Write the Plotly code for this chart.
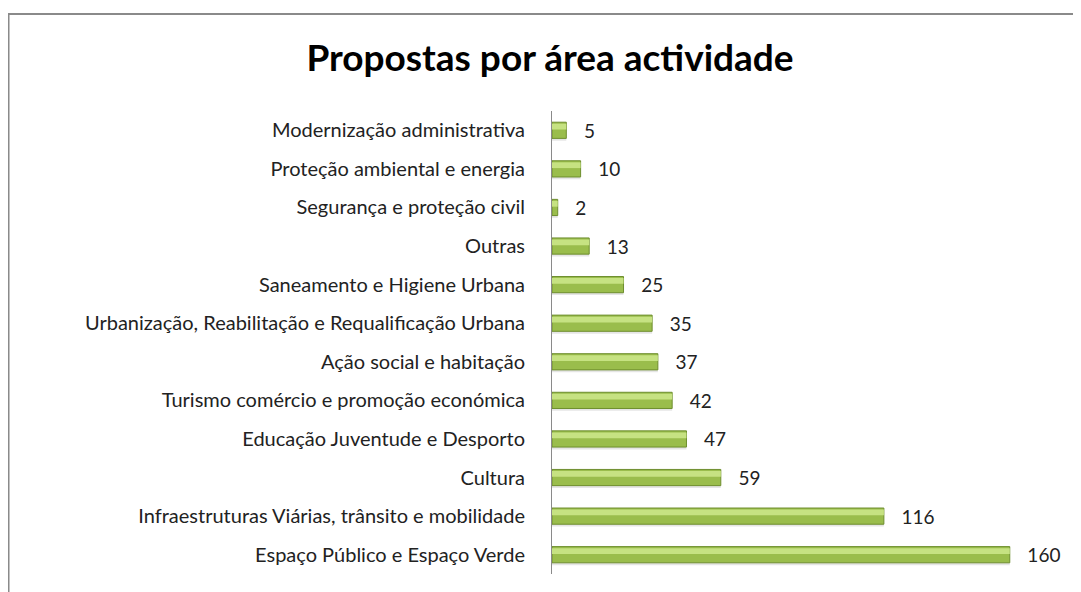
import plotly.graph_objects as go

# categories from bottom to top, as drawn
areas = [
    "Espaço Público e Espaço Verde",
    "Infraestruturas Viárias, trânsito e mobilidade",
    "Cultura",
    "Educação Juventude e Desporto",
    "Turismo comércio e promoção económica",
    "Ação social e habitação",
    "Urbanização, Reabilitação e Requalificação Urbana",
    "Saneamento e Higiene Urbana",
    "Outras",
    "Segurança e proteção civil",
    "Proteção ambiental e energia",
    "Modernização administrativa",
]
proposals = [160, 116, 59, 47, 42, 37, 35, 25, 13, 2, 10, 5]

FONT = "Lato, Open Sans, sans-serif"

fig = go.Figure()

# soft shadow under each bar
fig.add_trace(
    go.Bar(
        x=proposals,
        y=areas,
        orientation="h",
        width=0.07,
        offset=-0.27,
        marker=dict(color="rgba(0,0,0,0.10)", line=dict(width=0)),
        hoverinfo="skip",
        showlegend=False,
    )
)
# main bar body
fig.add_trace(
    go.Bar(
        x=proposals,
        y=areas,
        orientation="h",
        width=0.42,
        marker=dict(color="#9abd4c", line=dict(color="#6e8e2e", width=1)),
        texttemplate="   %{x}",
        textposition="outside",
        constraintext="none",
        textfont=dict(family=FONT, size=19, color="#222222"),
        cliponaxis=False,
        hoverinfo="skip",
        showlegend=False,
    )
)
# light top band to fake the bevel
fig.add_trace(
    go.Bar(
        x=proposals,
        y=areas,
        orientation="h",
        width=0.15,
        offset=0.02,
        marker=dict(color="#c6e282", line=dict(width=0)),
        hoverinfo="skip",
        showlegend=False,
    )
)

fig.update_layout(
    width=1081,
    height=592,
    barmode="overlay",
    paper_bgcolor="white",
    plot_bgcolor="white",
    margin=dict(l=544, r=22, t=103, b=26),
    title=dict(
        text="<b>Propostas por área actividade</b>",
        x=0.5014,
        xref="container",
        xanchor="center",
        y=0.9155,
        yref="container",
        yanchor="middle",
        font=dict(family=FONT, size=37, color="black"),
    ),
    font=dict(family=FONT, size=20, color="#222222"),
    shapes=[
        dict(
            type="rect",
            xref="paper",
            yref="paper",
            x0=-1.0553,
            x1=2.0,
            y0=-1.0,
            y1=1.2095,
            line=dict(color="#8a8a8a", width=2),
            fillcolor="rgba(0,0,0,0)",
            layer="below",
        )
    ],
)

fig.update_xaxes(
    range=[0, 180],
    showgrid=False,
    zeroline=False,
    showticklabels=False,
    showline=False,
    ticks="",
)
fig.update_yaxes(
    type="category",
    categoryorder="array",
    categoryarray=areas,
    showgrid=False,
    showline=True,
    linecolor="#8a8a8a",
    linewidth=1,
    ticks="",
    ticklabelstandoff=22,
    tickfont=dict(family=FONT, size=20, color="#222222"),
)

fig.write_html("out.html")
